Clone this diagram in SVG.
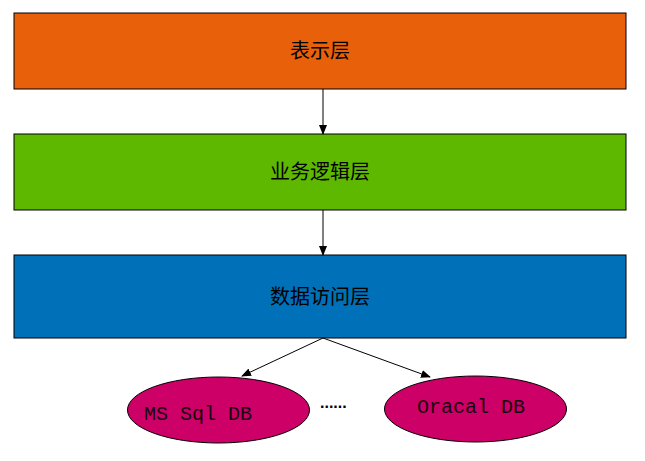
<svg xmlns="http://www.w3.org/2000/svg" width="645" height="461" viewBox="0 0 645 461">
<style>
.box{stroke:#000;stroke-width:1}
.t{font-family:"Noto Sans CJK SC","Noto Sans",sans-serif;font-size:20px;fill:#000;text-anchor:middle}
.db{fill:#CC0066;stroke:#000;stroke-width:1}
.m{font-family:"Liberation Mono",monospace;font-size:20px;fill:#1a0010}
.c{stroke:#000;stroke-width:1;fill:none;marker-end:url(#a)}
</style>
<defs><marker id="a" markerWidth="10" markerHeight="8" refX="9" refY="4" orient="auto" markerUnits="userSpaceOnUse"><path d="M0,0L10,4L0,8z" fill="#000"/></marker></defs>
<rect width="645" height="461" fill="#fff"/>
<g id="n1"><rect class="box" x="14" y="13" width="612" height="76" fill="#E8600A"/><text class="t" x="320" y="58">表示层</text></g>
<g id="n2"><rect class="box" x="14" y="134" width="612" height="76" fill="#5FB800"/><text class="t" x="320" y="179">业务逻辑层</text></g>
<g id="n3"><rect class="box" x="14" y="255" width="612" height="83" fill="#0070B8"/><text class="t" x="320" y="304">数据访问层</text></g>
<g id="n4"><ellipse class="db" cx="218.5" cy="410" rx="91" ry="33"/><text class="m" x="144" y="420" textLength="108" lengthAdjust="spacingAndGlyphs">MS Sql DB</text></g>
<g id="n5"><ellipse class="db" cx="475.5" cy="409" rx="91" ry="33"/><text class="m" x="417" y="413" textLength="108" lengthAdjust="spacingAndGlyphs">Oracal DB</text></g>
<g id="dots"><text x="320" y="408" style="font-family:'Liberation Sans',sans-serif;font-size:16px;font-weight:bold;fill:#000">......</text></g>
<g id="connectors">
<line class="c" x1="323" y1="89" x2="323" y2="134"/>
<line class="c" x1="323" y1="210" x2="323" y2="255"/>
<line class="c" x1="323" y1="338" x2="242" y2="376"/>
<line class="c" x1="323" y1="338" x2="430" y2="377"/>
</g>
</svg>
